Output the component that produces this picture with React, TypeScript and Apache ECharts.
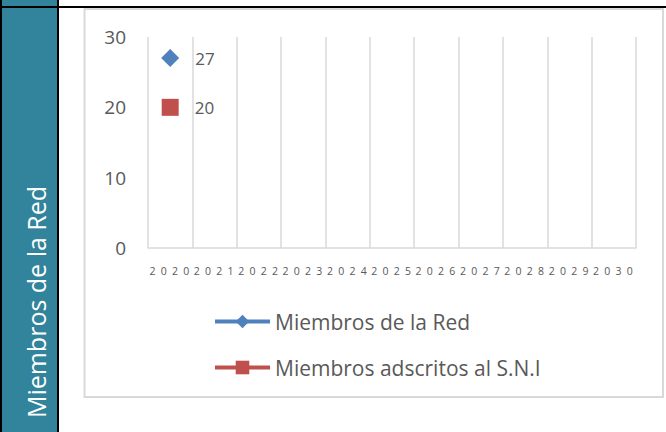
import React, { useEffect, useRef } from "react";
import * as echarts from "echarts";

const years = ["2020", "2021", "2022", "2023", "2024", "2025", "2026", "2027", "2028", "2029", "2030"];
const miembrosRed: (number | null)[] = [27, null, null, null, null, null, null, null, null, null, null];
const miembrosSNI: (number | null)[] = [20, null, null, null, null, null, null, null, null, null, null];
const seriesNames = ["Miembros de la Red", "Miembros adscritos al S.N.I"];
const yTitle = "Miembros de la Red";

const FONT = "'Open Sans', 'Noto Sans', sans-serif";
const GREY_TEXT = "#595959";

export default function App() {
  const ref = useRef<HTMLDivElement>(null);
  useEffect(() => {
    if (!ref.current) return;
    const chart = echarts.init(ref.current, undefined, { renderer: "svg" });
    const spaced = (s: string) => s.split("").join("\u2002") + "\u2009";
    chart.setOption({
      animation: false,
      textStyle: { fontFamily: FONT },
      graphic: [
        { type: "rect", z: 0, shape: { x: 2, y: 0, width: 55, height: 432 }, style: { fill: "#31849b" } },
        { type: "rect", z: 1, shape: { x: 0, y: 6, width: 666, height: 2 }, style: { fill: "#000" } },
        { type: "rect", z: 1, shape: { x: 0, y: 0, width: 2, height: 432 }, style: { fill: "#000" } },
        { type: "rect", z: 1, shape: { x: 57, y: 0, width: 2, height: 432 }, style: { fill: "#000" } },
        {
          type: "rect", z: 0,
          shape: { x: 84.5, y: 9, width: 578.5, height: 388 },
          style: { fill: "none", stroke: "#d9d9d9", lineWidth: 2 },
        },
        {
          type: "text", z: 2, x: 36, y: 302, rotation: Math.PI / 2,
          style: {
            text: yTitle, fill: "#ffffff", fontSize: 25, fontFamily: FONT,
            align: "center", verticalAlign: "middle",
          },
        },
      ],
      grid: { left: 148, right: 30, top: 37, bottom: 184, containLabel: false },
      legend: {
        orient: "vertical",
        left: 208,
        top: 306,
        itemWidth: 55,
        itemHeight: 17,
        itemGap: 25,
        lineStyle: { width: 4 },
        textStyle: { color: GREY_TEXT, fontSize: 21, fontFamily: FONT },
        data: seriesNames,
      },
      xAxis: {
        type: "category",
        data: years,
        boundaryGap: true,
        axisTick: { show: false },
        axisLine: { show: true, lineStyle: { color: "#d9d9d9", width: 1.5 } },
        splitLine: { show: true, interval: 0, lineStyle: { color: "#d9d9d9", width: 1.5 } },
        axisLabel: {
          interval: 0, color: GREY_TEXT, fontSize: 10.5, margin: 17, fontFamily: FONT,
          formatter: (v: string) => spaced(v),
        },
      },
      yAxis: {
        type: "value",
        min: 0,
        max: 30,
        interval: 10,
        axisLine: { show: false },
        axisTick: { show: false },
        splitLine: { show: false },
        axisLabel: { color: GREY_TEXT, fontSize: 19, margin: 22, fontFamily: FONT },
      },
      series: [
        {
          name: seriesNames[0],
          type: "line",
          data: miembrosRed,
          symbol: "diamond",
          symbolSize: 18,
          showAllSymbol: true,
          itemStyle: { color: "#4f81bd" },
          lineStyle: { color: "#4f81bd", width: 4 },
          label: { show: true, position: "right", distance: 16, color: GREY_TEXT, fontSize: 17, fontFamily: FONT },
        },
        {
          name: seriesNames[1],
          type: "line",
          data: miembrosSNI,
          symbol: "rect",
          symbolSize: 17,
          showAllSymbol: true,
          itemStyle: { color: "#c0504d" },
          lineStyle: { color: "#c0504d", width: 4 },
          label: { show: true, position: "right", distance: 16, color: GREY_TEXT, fontSize: 17, fontFamily: FONT },
        },
      ],
    });
    return () => chart.dispose();
  }, []);
  return (
    <div
      ref={ref}
      style={{ position: "fixed", left: 0, top: 0, width: 666, height: 432, background: "#fff" }}
    />
  );
}
